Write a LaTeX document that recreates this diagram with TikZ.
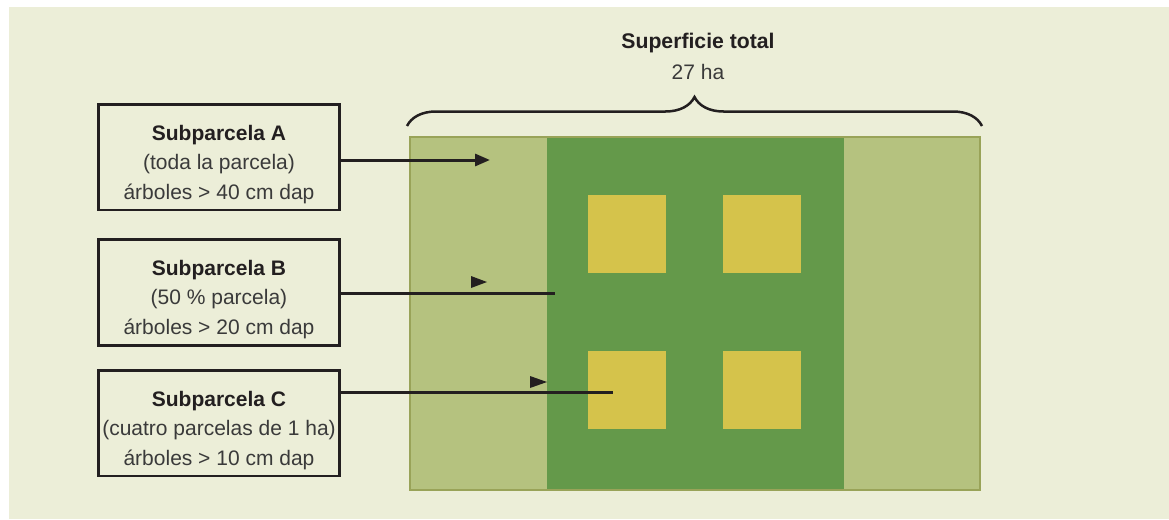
\documentclass[tikz,border=0pt]{standalone}
\usepackage{fontspec}
\setmainfont{Liberation Sans}
\usetikzlibrary{arrows.meta,decorations.pathreplacing}

\definecolor{cream}{HTML}{ECEED8}
\definecolor{lightplot}{HTML}{B5C27F}
\definecolor{darkplot}{HTML}{64994A}
\definecolor{plotyellow}{HTML}{D5C34B}
\definecolor{plotedge}{HTML}{99A358}
\definecolor{ink}{HTML}{231F20}
\definecolor{bodyink}{HTML}{3A3A3A}

\tikzset{
  subbox/.style={draw=ink, line width=2.8pt, minimum width=240.6pt,
    minimum height=105.5pt, inner sep=0pt},
  boxtext/.style={align=center, text=bodyink, inner sep=0pt,
    font=\fontsize{21}{29.5}\selectfont},
  link/.style={draw=ink, line width=3pt},
  linkarrow/.style={link, -{Triangle[length=15pt,width=12pt]}},
  marker/.style={fill=ink},
  heading/.style={text=ink, font=\bfseries\fontsize{21.2}{24}\selectfont},
}
\newcommand{\boxtitle}[1]{{\color{ink}\bfseries #1}}

\begin{document}
\begin{tikzpicture}[x=1pt,y=-1pt]
\useasboundingbox (0,0) rectangle (1169,519);
\fill[cream] (9,7) rectangle (1169,519);

% plot: outer strip, inner half, four 1 ha squares
\fill[lightplot] (410,137) rectangle (980,490);
\fill[darkplot] (547,137) rectangle (844,490);
\fill[plotyellow] (588,195) rectangle (666,273);
\fill[plotyellow] (723,195) rectangle (801,273);
\fill[plotyellow] (588,351) rectangle (666,429);
\fill[plotyellow] (723,351) rectangle (801,429);
\draw[plotedge, line width=1.6pt] (410,137) rectangle (980,490);

% total area label and brace
\node[heading] (total) at (698,43) {Superficie total};
\node[text=bodyink, font=\fontsize{21}{24}\selectfont] (area) at (698,72) {27 ha};
\coordinate (braceL) at (407,126);
\coordinate (braceR) at (982,126);
\draw[ink, line width=2.5pt, decorate, decoration={brace, amplitude=29pt}] (braceL) -- (braceR);

% subplot boxes and their texts
\node[subbox] (boxA) at (219,157.2) {};
\node[subbox] (boxB) at (219,292.4) {};
\node[subbox] (boxC) at (219,423.3) {};
\node[boxtext] (textA) at ([yshift=-7pt]boxA.center) {\boxtitle{Subparcela A}\\(toda la parcela)\\árboles > 40 cm dap};
\node[boxtext] (textB) at ([yshift=-7pt]boxB.center) {\boxtitle{Subparcela B}\\(50 \% parcela)\\árboles > 20 cm dap};
\node[boxtext] (textC) at ([yshift=-7pt]boxC.center) {\boxtitle{Subparcela C}\\(cuatro parcelas de 1 ha)\\árboles > 10 cm dap};

% connectors
\coordinate (endA) at (490,160);
\coordinate (endB) at (555,293);
\coordinate (endC) at (613,392.5);
\draw[linkarrow] (boxA.east |- endA) -- (endA);
\draw[link] (boxB.east |- endB) -- (endB);
\draw[link] (boxC.east |- endC) -- (endC);
\fill[marker] (471,276) -- (487,282) -- (471,288) -- cycle;
\fill[marker] (530,376) -- (547,382) -- (530,388) -- cycle;
\end{tikzpicture}
\end{document}
